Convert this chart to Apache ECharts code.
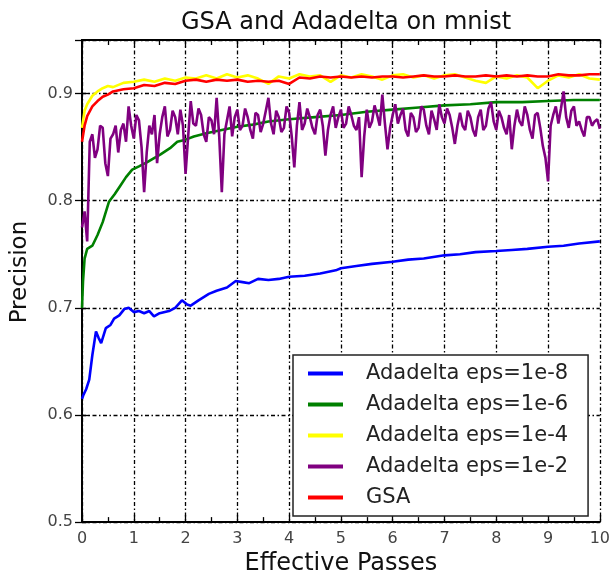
<!DOCTYPE html>
<html>
<head>
<meta charset="utf-8">
<script src="https://cdn.jsdelivr.net/npm/echarts@6/dist/echarts.min.js"></script>
<style>
  html, body { margin: 0; padding: 0; background: #fff; }
  #chart { width: 613px; height: 581px; }
</style>
</head>
<body>
<div id="chart"></div>
<script>
// 数据
const seriesNames = ['Adadelta eps=1e-8', 'Adadelta eps=1e-6', 'Adadelta eps=1e-4', 'Adadelta eps=1e-2', 'GSA'];
const seriesColors = ['#0000ff', '#008000', '#ffff00', '#800080', '#ff0000'];
const xTickLabels = ['0', '1', '2', '3', '4', '5', '6', '7', '8', '9', '10'];
const yTickLabels = ['0.5', '0.6', '0.7', '0.8', '0.9'];

// eps=1e-8
const eps8X = [0, 0.03, 0.08, 0.14, 0.2, 0.27, 0.32, 0.37, 0.46, 0.55, 0.62, 0.72, 0.82, 0.9, 1.0, 1.1, 1.2, 1.3, 1.39, 1.5, 1.68, 1.8, 1.93, 2.03, 2.1, 2.25, 2.45, 2.6, 2.8, 2.97, 3.1, 3.23, 3.4, 3.6, 3.8, 4.0, 4.3, 4.6, 4.9, 5.0, 5.3, 5.6, 6.0, 6.3, 6.6, 7.0, 7.3, 7.6, 8.0, 8.3, 8.6, 9.0, 9.3, 9.6, 10.0];
const eps8Y = [0.615, 0.619, 0.624, 0.633, 0.656, 0.678, 0.672, 0.667, 0.681, 0.684, 0.690, 0.693, 0.699, 0.700, 0.696, 0.697, 0.695, 0.697, 0.692, 0.695, 0.697, 0.700, 0.707, 0.703, 0.702, 0.707, 0.713, 0.716, 0.719, 0.725, 0.724, 0.723, 0.727, 0.726, 0.727, 0.729, 0.730, 0.732, 0.735, 0.737, 0.739, 0.741, 0.743, 0.745, 0.746, 0.749, 0.750, 0.752, 0.753, 0.754, 0.755, 0.757, 0.758, 0.760, 0.762];

// eps=1e-6
const eps6X = [0, 0.02, 0.05, 0.1, 0.2, 0.3, 0.4, 0.52, 0.63, 0.74, 0.85, 0.97, 1.1, 1.26, 1.4, 1.51, 1.7, 1.84, 2.0, 2.16, 2.4, 2.7, 3.0, 3.3, 3.6, 4.0, 4.5, 5.0, 5.5, 6.0, 6.5, 7.0, 7.5, 8.0, 8.5, 9.0, 9.5, 10.0];
const eps6Y = [0.700, 0.725, 0.746, 0.755, 0.758, 0.768, 0.780, 0.799, 0.806, 0.814, 0.822, 0.829, 0.832, 0.836, 0.840, 0.843, 0.849, 0.855, 0.857, 0.860, 0.863, 0.866, 0.869, 0.871, 0.874, 0.876, 0.878, 0.880, 0.883, 0.885, 0.887, 0.889, 0.890, 0.892, 0.892, 0.893, 0.894, 0.894];

// eps=1e-4 和 GSA 共用的 x
const fineX = [0, 0.05, 0.1, 0.2, 0.3, 0.4, 0.5, 0.6, 0.8, 1.0, 1.2, 1.4, 1.6, 1.8, 2.0, 2.2, 2.4, 2.6, 2.8, 3.0, 3.2, 3.4, 3.6, 3.8, 4.0, 4.2, 4.4, 4.6, 4.8, 5.0, 5.2, 5.4, 5.6, 5.8, 6.0, 6.2, 6.4, 6.6, 6.8, 7.0, 7.2, 7.4, 7.6, 7.8, 8.0, 8.2, 8.4, 8.6, 8.8, 9.0, 9.2, 9.4, 9.6, 9.8, 10.0];
const eps4Y = [0.868, 0.884, 0.890, 0.898, 0.902, 0.905, 0.907, 0.906, 0.910, 0.911, 0.913, 0.911, 0.914, 0.912, 0.915, 0.914, 0.917, 0.914, 0.918, 0.915, 0.917, 0.914, 0.909, 0.916, 0.914, 0.918, 0.916, 0.917, 0.911, 0.917, 0.915, 0.918, 0.916, 0.913, 0.917, 0.918, 0.915, 0.917, 0.914, 0.917, 0.918, 0.915, 0.912, 0.910, 0.916, 0.914, 0.917, 0.915, 0.905, 0.912, 0.917, 0.915, 0.918, 0.914, 0.913];
const gsaY = [0.855, 0.870, 0.879, 0.888, 0.893, 0.897, 0.899, 0.902, 0.904, 0.905, 0.908, 0.907, 0.910, 0.909, 0.912, 0.913, 0.911, 0.913, 0.912, 0.913, 0.911, 0.912, 0.911, 0.912, 0.909, 0.915, 0.914, 0.916, 0.915, 0.916, 0.915, 0.916, 0.915, 0.916, 0.916, 0.915, 0.916, 0.917, 0.916, 0.916, 0.917, 0.916, 0.916, 0.917, 0.916, 0.917, 0.916, 0.917, 0.916, 0.916, 0.918, 0.917, 0.917, 0.918, 0.918];

// eps=1e-2，每 0.05 一个点
const eps2X = Array.from({ length: 201 }, (v, i) => i / 20);
const eps2Y = [
  0.775, 0.790, 0.762, 0.855, 0.862, 0.840, 0.848, 0.870, 0.868, 0.835,
  0.823, 0.858, 0.862, 0.870, 0.845, 0.866, 0.872, 0.855, 0.888, 0.870,
  0.858, 0.880, 0.875, 0.850, 0.808, 0.845, 0.870, 0.862, 0.880, 0.835,
  0.862, 0.878, 0.888, 0.860, 0.866, 0.884, 0.878, 0.862, 0.885, 0.870,
  0.825, 0.860, 0.893, 0.872, 0.870, 0.886, 0.880, 0.862, 0.855, 0.878,
  0.875, 0.862, 0.896, 0.860, 0.808, 0.862, 0.875, 0.888, 0.860, 0.878,
  0.885, 0.866, 0.870, 0.886, 0.878, 0.866, 0.858, 0.882, 0.880, 0.864,
  0.872, 0.884, 0.896, 0.872, 0.862, 0.884, 0.878, 0.864, 0.868, 0.888,
  0.882, 0.860, 0.831, 0.870, 0.892, 0.866, 0.872, 0.886, 0.878, 0.868,
  0.862, 0.880, 0.885, 0.870, 0.842, 0.866, 0.880, 0.888, 0.868, 0.878,
  0.885, 0.868, 0.872, 0.888, 0.880, 0.870, 0.866, 0.878, 0.822, 0.860,
  0.885, 0.868, 0.874, 0.889, 0.880, 0.870, 0.899, 0.872, 0.848, 0.868,
  0.880, 0.890, 0.872, 0.880, 0.886, 0.866, 0.860, 0.882, 0.878, 0.864,
  0.868, 0.888, 0.885, 0.870, 0.862, 0.884, 0.876, 0.866, 0.890, 0.878,
  0.872, 0.886, 0.880, 0.868, 0.853, 0.870, 0.882, 0.870, 0.866, 0.884,
  0.878, 0.866, 0.860, 0.878, 0.885, 0.866, 0.870, 0.886, 0.892, 0.874,
  0.866, 0.884, 0.878, 0.868, 0.862, 0.880, 0.848, 0.870, 0.885, 0.874,
  0.870, 0.888, 0.880, 0.866, 0.858, 0.880, 0.882, 0.868, 0.851, 0.840,
  0.818, 0.870, 0.880, 0.888, 0.872, 0.886, 0.902, 0.878, 0.868, 0.884,
  0.888, 0.870, 0.874, 0.866, 0.860, 0.878, 0.878, 0.870, 0.874, 0.876,
  0.867
];

function zip(xs, ys) {
  return xs.map((x, i) => [x, ys[i]]);
}

const FONT = 'DejaVu Sans';
const gridLine = { color: '#000', width: 1.3, type: [4, 2.5, 1.5, 2.5] };

const chart = echarts.init(document.getElementById('chart'));

const option = {
  animation: false,
  backgroundColor: '#fff',
  title: {
    text: 'GSA and Adadelta on mnist',
    left: 341,
    textAlign: 'center',
    top: 6,
    textStyle: { fontFamily: FONT, fontSize: 24, fontWeight: 'normal', color: '#111' }
  },
  grid: { left: 82, right: 12, top: 40, bottom: 56, containLabel: false },
  legend: {
    orient: 'vertical',
    left: 293,
    top: 355,
    data: seriesNames,
    icon: 'rect',
    itemWidth: 35,
    itemHeight: 4,
    itemGap: 10,
    padding: [8, 20, 8, 15],
    backgroundColor: '#fff',
    borderColor: '#222',
    borderWidth: 1.5,
    borderRadius: 0,
    textStyle: { fontFamily: FONT, fontSize: 21, lineHeight: 21, color: '#222', padding: [0, 0, 0, 18] }
  },
  xAxis: [{
    type: 'value',
    min: 0,
    max: 10,
    interval: 1,
    name: 'Effective Passes',
    nameLocation: 'middle',
    nameGap: 28,
    nameTextStyle: { fontFamily: FONT, fontSize: 24, color: '#111' },
    axisLine: { lineStyle: { color: '#000', width: 1.8 } },
    axisTick: { inside: true, length: 7, lineStyle: { color: '#000', width: 1.3 } },
    minorTick: { show: true, splitNumber: 2, length: 5, lineStyle: { color: '#000', width: 1.3 } },
    axisLabel: {
      margin: 9,
      fontFamily: FONT, fontSize: 16, color: '#444',
      formatter: v => xTickLabels[Math.round(v)] || ''
    },
    splitLine: { show: true, lineStyle: gridLine }
  }, {
    type: 'value',
    position: 'top',
    min: 0,
    max: 10,
    interval: 1,
    axisLine: { show: true, lineStyle: { color: '#000', width: 1.8 } },
    axisTick: { inside: true, length: 7, lineStyle: { color: '#000', width: 1.3 } },
    minorTick: { show: true, splitNumber: 2, length: 5, lineStyle: { color: '#000', width: 1.3 } },
    axisLabel: { show: false },
    splitLine: { show: false }
  }],
  yAxis: [{
    type: 'value',
    min: 0.5,
    max: 0.95,
    interval: 0.1,
    name: 'Precision',
    nameLocation: 'middle',
    nameGap: 50,
    nameTextStyle: { fontFamily: FONT, fontSize: 23, color: '#111', padding: [0, 0, 0, 18] },
    axisLine: { show: true, lineStyle: { color: '#000', width: 1.8 } },
    axisTick: { inside: true, length: 7, lineStyle: { color: '#000', width: 1.3 } },
    axisLabel: {
      margin: 9,
      showMaxLabel: false,
      fontFamily: FONT, fontSize: 16, color: '#444',
      formatter: v => {
        const idx = Math.round((v - 0.5) * 10);
        return v > 0.92 ? '' : (yTickLabels[idx] || '');
      }
    },
    splitLine: { show: true, lineStyle: gridLine }
  }, {
    type: 'value',
    position: 'right',
    min: 0.5,
    max: 0.95,
    interval: 0.1,
    axisLine: { show: true, lineStyle: { color: '#000', width: 1.8 } },
    axisTick: { inside: true, length: 7, lineStyle: { color: '#000', width: 1.3 } },
    axisLabel: { show: false },
    splitLine: { show: false }
  }],
  series: [
    [eps8X, eps8Y],
    [eps6X, eps6Y],
    [fineX, eps4Y],
    [eps2X, eps2Y],
    [fineX, gsaY]
  ].map((pair, i) => ({
    name: seriesNames[i],
    type: 'line',
    xAxisIndex: 0,
    yAxisIndex: 0,
    data: zip(pair[0], pair[1]),
    showSymbol: false,
    symbol: 'none',
    lineStyle: { color: seriesColors[i], width: 2.6 },
    itemStyle: { color: seriesColors[i] },
    z: 2 + i
  }))
};

chart.setOption(option);
</script>
</body>
</html>
